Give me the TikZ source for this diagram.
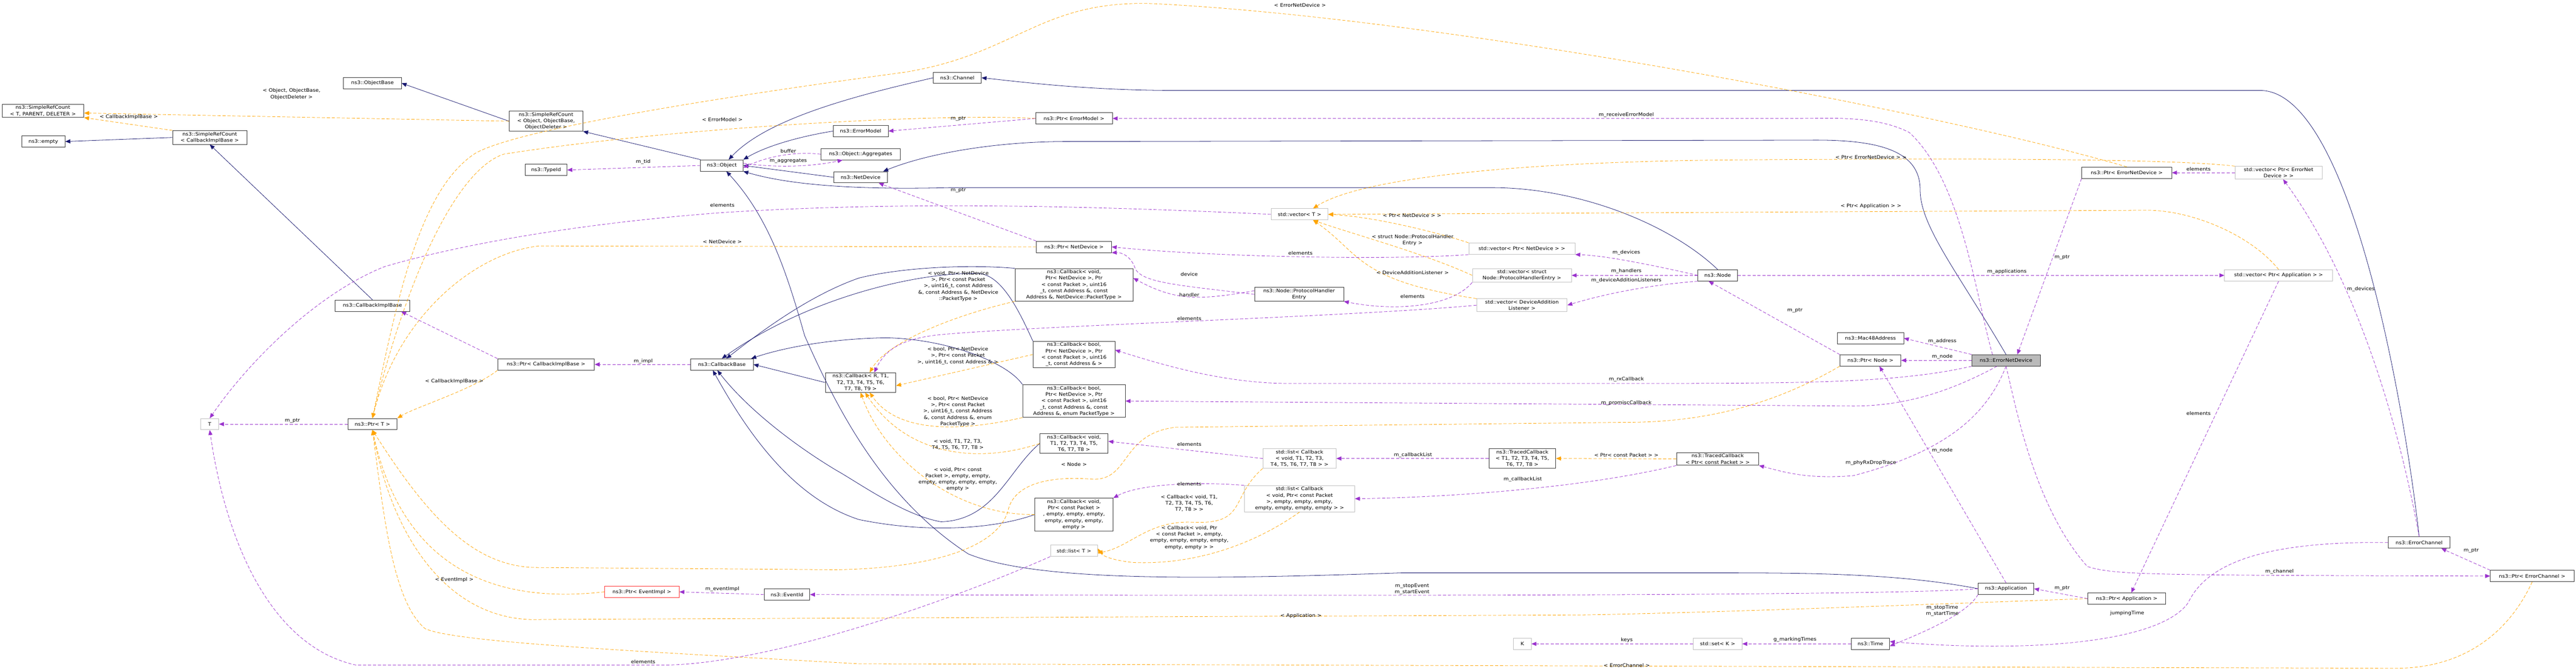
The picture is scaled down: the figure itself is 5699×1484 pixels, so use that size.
\documentclass[tikz,border=0pt]{standalone}
\usepackage{fontspec}
\setmainfont{DejaVu Sans}[FakeStretch=1.1]
\usetikzlibrary{arrows.meta}
\definecolor{cblue}{HTML}{191970}
\definecolor{cpurp}{HTML}{9A32CD}
\definecolor{corng}{HTML}{FFA500}
\begin{document}
\begin{tikzpicture}[x=1pt,y=-1pt,
  every node/.style={font=\fontsize{10.5}{14}\selectfont},
  box/.style={draw=black!80, fill=white, line width=1pt, align=center, inner sep=3pt, minimum height=25pt, minimum width=#1},
  gbox/.style={box=#1, draw=black!25},
  inh/.style={draw=cblue, line width=0.9pt, -{Triangle[length=11pt,width=9pt]}},
  use/.style={draw=cpurp, line width=0.9pt, dash pattern=on 7pt off 4pt, -{Triangle[length=11pt,width=9pt]}},
  tpl/.style={draw=corng, line width=0.9pt, dash pattern=on 7pt off 4pt, -{Triangle[length=11pt,width=9pt]}},
  lbl/.style={align=center, inner sep=0pt, fill=none}]
\useasboundingbox[fill=white] (0,0) rectangle (5699,1484);
% nodes
\node[box=181] (srctpd) at (95,245) {ns3::SimpleRefCount\\< T, PARENT, DELETER >};
\node[box=96] (empty) at (96,313) {ns3::empty};
\node[box=164] (srccib) at (464,304) {ns3::SimpleRefCount\\< CallbackImplBase >};
\node[box=128] (objbase) at (824,184) {ns3::ObjectBase};
\node[box=166] (cib) at (824,676) {ns3::CallbackImplBase};
\node[gbox=40] (T) at (464,938) {T};
\node[box=109] (pT) at (824,938) {ns3::Ptr< T >};
\node[box=163] (srcobj) at (1208,268) {ns3::SimpleRefCount\\< Object, ObjectBase,\\ ObjectDeleter >};
\node[box=93] (typeid) at (1208,376) {ns3::TypeId};
\node[box=94] (object) at (1597,366) {ns3::Object};
\node[box=122] (errmodel) at (1904,290) {ns3::ErrorModel};
\node[box=176] (agg) at (1904,341) {ns3::Object::Aggregates};
\node[box=119] (netdev) at (1904,392) {ns3::NetDevice};
\node[box=214] (pcib) at (1208,806) {ns3::Ptr< CallbackImplBase >};
\node[box=139] (cbase) at (1597,806) {ns3::CallbackBase};
\node[box=156] (cbr) at (1904,846) {ns3::Callback< R, T1,\\ T2, T3, T4, T5, T6,\\ T7, T8, T9 >};
\node[box=165, draw=red!80] (pevent) at (1420,1309) {ns3::Ptr< EventImpl >};
\node[box=101] (eventid) at (1741,1315) {ns3::EventId};
\node[box=106] (channel) at (2118,172) {ns3::Channel};
\node[box=170] (perr) at (2376,262) {ns3::Ptr< ErrorModel >};
\node[box=166] (pnd) at (2376,546) {ns3::Ptr< NetDevice >};
\node[box=261] (cbnd) at (2376,630) {ns3::Callback< void,\\ Ptr< NetDevice >, Ptr\\< const Packet >, uint16\\\_t, const Address \&, const\\ Address \&, NetDevice::PacketType >};
\node[box=197] (phe) at (2874,651) {ns3::Node::ProtocolHandler\\Entry};
\node[box=181] (cbb1) at (2376,784) {ns3::Callback< bool,\\ Ptr< NetDevice >, Ptr\\< const Packet >, uint16\\\_t, const Address \& >};
\node[box=227] (cbb2) at (2376,887) {ns3::Callback< bool,\\ Ptr< NetDevice >, Ptr\\< const Packet >, uint16\\\_t, const Address \&, const\\ Address \&, enum PacketType >};
\node[box=151] (cbvt) at (2376,981) {ns3::Callback< void,\\ T1, T2, T3, T4, T5,\\ T6, T7, T8 >};
\node[box=173] (cbpkt) at (2376,1138) {ns3::Callback< void,\\ Ptr< const Packet >\\, empty, empty, empty,\\ empty, empty, empty,\\ empty >};
\node[gbox=104] (listT) at (2376,1218) {std::list< T >};
\node[gbox=162] (listcbt) at (2875,1014) {std::list< Callback\\< void, T1, T2, T3,\\ T4, T5, T6, T7, T8 > >};
\node[gbox=244] (listcbp) at (2875,1103) {std::list< Callback\\< void, Ptr< const Packet\\ >, empty, empty, empty,\\ empty, empty, empty, empty > >};
\node[gbox=126] (vecT) at (2875,474) {std::vector< T >};
\node[gbox=235] (vecpnd) at (3367,550) {std::vector< Ptr< NetDevice > >};
\node[gbox=219] (vecst) at (3367,609) {std::vector< struct\\ Node::ProtocolHandlerEntry >};
\node[gbox=200] (vecdal) at (3367,675) {std::vector< DeviceAddition\\Listener >};
\node[box=87] (node) at (3800,609) {ns3::Node};
\node[box=148] (tct) at (3368,1014) {ns3::TracedCallback\\< T1, T2, T3, T4, T5,\\ T6, T7, T8 >};
\node[box=182] (tcp) at (3800,1015) {ns3::TracedCallback\\< Ptr< const Packet > >};
\node[gbox=39] (K) at (3368,1424) {K};
\node[gbox=108] (setK) at (3800,1424) {std::set< K >};
\node[box=199] (pend) at (4705,382) {ns3::Ptr< ErrorNetDevice >};
\node[box=147] (mac) at (4138,748) {ns3::Mac48Address};
\node[box=135] (pnode) at (4138,797) {ns3::Ptr< Node >};
\node[box=151, fill=black!27] (end) at (4438,797) {ns3::ErrorNetDevice};
\node[box=123] (app) at (4438,1302) {ns3::Application};
\node[box=172] (papp) at (4705,1324) {ns3::Ptr< Application >};
\node[box=85] (time) at (4138,1424) {ns3::Time};
\node[gbox=193] (vecpend) at (5041,382) {std::vector< Ptr< ErrorNet\\Device > >};
\node[gbox=239] (vecpapp) at (5041,609) {std::vector< Ptr< Application > >};
\node[box=137] (ec) at (5352,1200) {ns3::ErrorChannel};
\node[box=185] (pec) at (5602,1274) {ns3::Ptr< ErrorChannel >};
% inheritance
\draw[inh] (srccib.west) -- (empty.east);
\draw[inh] (cib.north) -- (srccib.south);
\draw[inh] (srcobj.west) -- (objbase.east);
\draw[inh] (object.north west) -- (srcobj.south east);
\draw[inh] (errmodel.west) .. controls (1780,300) and (1700,320) .. (object.north east);
\draw[inh] (channel.west) .. controls (1900,210) and (1700,260) .. ([xshift=15pt]object.north);
\draw[inh] (netdev.west) -- (object.east);
\draw[inh] (node.north) .. controls (3700,500) and (3500,415) .. (3300,415) -- (2100,415) .. controls (1900,420) and (1750,410) .. (object.south east);
\draw[inh] (end.north) .. controls (4330,600) and (4248,500) .. (4248,420) .. controls (4248,330) and (4150,308) .. (4000,310) -- (2360,313) .. controls (2200,313) and (2050,340) .. ([xshift=-10pt]netdev.north east);
\draw[inh] (ec.north) .. controls (5320,900) and (5200,200) .. (5000,200) -- (2600,200) .. controls (2400,200) and (2250,180) .. (channel.east);
\draw[inh] (app.west) .. controls (4200,1268) and (4000,1267) .. (3800,1267) -- (3100,1267) .. controls (2700,1280) and (2300,1290) .. (2142,1225) .. controls (1950,1100) and (1850,900) .. (1780,742) .. controls (1740,600) and (1700,480) .. ([xshift=10pt]object.south);
\draw[inh] (cbr.west) -- (cbase.east);
\draw[inh] (cbnd.north west) .. controls (2150,585) and (2000,590) .. (1900,615) .. controls (1800,650) and (1700,720) .. ([xshift=10pt]cbase.north);
\draw[inh] (cbb1.north west) .. controls (2260,700) and (2220,610) .. (2167,605) .. controls (2050,600) and (1800,650) .. (cbase.north);
\draw[inh] (cbb2.north west) .. controls (2230,803) and (2100,750) .. (1960,747) .. controls (1800,750) and (1700,780) .. ([xshift=-5pt]cbase.north east);
\draw[inh] (cbvt.west) .. controls (2230,1040) and (2200,1150) .. (2082,1154) .. controls (2000,1140) and (1900,1068) .. (1850,1040) .. controls (1750,980) and (1650,900) .. ([xshift=-10pt]cbase.south);
\draw[inh] (cbpkt.west) .. controls (2200,1170) and (2050,1180) .. (1900,1149) .. controls (1750,1100) and (1650,950) .. ([xshift=-20pt]cbase.south);
% templates
\draw[tpl] (srcobj.west) -- ([yshift=-5pt]srctpd.east);
\draw[tpl] (srccib.north west) -- (srctpd.south east);
\draw[tpl] (pend.north) .. controls (4300,250) and (3200,40) .. (2550,8) .. controls (2300,0) and (2250,120) .. (2000,160) .. controls (1700,200) and (1150,280) .. (1050,340) .. controls (930,420) and (880,650) .. (pT.north);
\draw[tpl] (perr.west) .. controls (2100,250) and (1500,280) .. (1114,341) .. controls (1000,380) and (890,650) .. (pT.north);
\draw[tpl] (pnd.west) -- (1192,544) .. controls (1050,560) and (880,700) .. (pT.north);
\draw[tpl] (pcib.south west) .. controls (1050,860) and (920,900) .. (pT.north east);
\draw[tpl] (pnode.south west) .. controls (3950,880) and (3800,934) .. (3600,934) -- (2600,945) .. controls (2480,960) and (2500,1060) .. (2420,1060) .. controls (2300,1050) and (2240,1080) .. (2230,1130) .. controls (2200,1230) and (2000,1258) .. (1850,1260) -- (1180,1255) .. controls (1050,1250) and (950,1150) .. (pT.south);
\draw[tpl] (pevent.west) .. controls (1150,1330) and (900,1300) .. (pT.south);
\draw[tpl] (papp.west) .. controls (4300,1335) and (3800,1355) .. (3500,1360) -- (1200,1370) .. controls (1000,1380) and (870,1200) .. (pT.south);
\draw[tpl] (pec.south) .. controls (5550,1400) and (5450,1478) .. (5300,1478) -- (1900,1468) .. controls (1400,1440) and (1000,1420) .. (940,1390) .. controls (870,1330) and (850,1150) .. (pT.south);
\draw[tpl] (cbb1.west) -- ([yshift=-7pt]cbr.east);
\draw[tpl] (cbb2.south west) .. controls (2100,960) and (1980,950) .. ([xshift=20pt]cbr.south);
\draw[tpl] (cbvt.west) .. controls (2150,1030) and (2000,1000) .. ([xshift=10pt]cbr.south);
\draw[tpl] (cbpkt.west) .. controls (2100,1140) and (1950,1000) .. (cbr.south);
\draw[tpl] (cbnd.south west) .. controls (2100,700) and (1960,760) .. ([xshift=20pt]cbr.north);
\draw[tpl] (vecpnd.north west) .. controls (3200,520) and (3050,480) .. (vecT.east);
\draw[tpl] (vecst.west) .. controls (3150,560) and (3000,520) .. ([xshift=30pt]vecT.south);
\draw[tpl] (vecdal.north west) .. controls (3000,620) and (3010,560) .. ([xshift=30pt]vecT.south);
\draw[tpl] (vecpend.north west) .. controls (4800,350) and (4300,350) .. (3800,354) .. controls (3300,360) and (3000,400) .. ([xshift=30pt]vecT.north);
\draw[tpl] (vecpapp.north) .. controls (4980,520) and (4850,465) .. (4750,465) -- (vecT.east);
\draw[tpl] (listcbt.south west) .. controls (2720,1100) and (2760,1160) .. (2640,1155) .. controls (2540,1150) and (2500,1210) .. ([yshift=-5pt]listT.east);
\draw[tpl] (listcbp.south) .. controls (2780,1200) and (2650,1250) .. (2506,1244) .. controls (2470,1240) and (2440,1232) .. ([yshift=5pt]listT.east);
\draw[tpl] (tcp.west) -- (tct.east);
% usage
\draw[use] (object.west) -- (typeid.east);
\draw[use] (agg.west) .. controls (1760,335) and (1700,345) .. ([yshift=-5pt]object.east);
\draw[use] ([yshift=5pt]object.east) .. controls (1720,372) and (1800,368) .. ([xshift=-40pt]agg.south);
\draw[use] (perr.west) -- (errmodel.east);
\draw[use] (pnd.north west) -- ([xshift=-20pt]netdev.south east);
\draw[use] (pT.west) -- (T.east);
\draw[use] (vecT.west) .. controls (2400,455) and (2000,445) .. (1600,470) .. controls (1200,500) and (950,560) .. (850,590) .. controls (700,650) and (550,800) .. (T.north);
\draw[use] (listT.south west) .. controls (2100,1330) and (1700,1470) .. (1465,1471) -- (788,1471) .. controls (600,1430) and (500,1200) .. (T.south);
\draw[use] (pcib.north west) -- ([xshift=-20pt]cib.south east);
\draw[use] (cbase.west) -- (pcib.east);
\draw[use] (eventid.west) -- (pevent.east);
\draw[use] (app.west) .. controls (4200,1318) and (3000,1318) .. (eventid.east);
\draw[use] (vecpnd.south west) .. controls (3100,575) and (2700,570) .. (pnd.east);
\draw[use] (phe.west) .. controls (2600,630) and (2520,625) .. (2510,590) .. controls (2500,565) and (2480,558) .. (pnd.south east);
\draw[use] ([yshift=8pt]phe.west) .. controls (2650,665) and (2600,665) .. ([yshift=15pt]cbnd.east);
\draw[use] (vecst.south west) .. controls (3214,677) and (3092,690) .. (phe.south east);
\draw[use] (vecdal.west) .. controls (3000,700) and (2300,720) .. (2082,740) .. controls (2000,748) and (1960,770) .. ([xshift=30pt]cbr.north);
\draw[use] (node.west) .. controls (3650,585) and (3550,565) .. (vecpnd.south east);
\draw[use] (node.west) -- (vecst.east);
\draw[use] (node.south west) .. controls (3650,630) and (3550,650) .. (vecdal.east);
\draw[use] (node.east) -- (vecpapp.west);
\draw[use] (pnode.north west) -- ([xshift=-20pt]node.south);
\draw[use] (end.west) -- (pnode.east);
\draw[use] (end.north west) -- (mac.east);
\draw[use] (app.north) -- ([xshift=20pt]pnode.south);
\draw[use] (app.south west) .. controls (4350,1360) and (4250,1400) .. ([yshift=-5pt]time.east);
\draw[use] (setK.west) -- (K.east);
\draw[use] (time.west) -- (setK.east);
\draw[use] (ec.west) .. controls (5000,1196) and (4880,1250) .. (4841,1333) .. controls (4780,1420) and (4500,1445) .. ([yshift=5pt]time.east);
\draw[use] (pec.north west) -- ([xshift=-20pt]ec.south east);
\draw[use] (end.south) .. controls (4460,900) and (4500,1120) .. (4618,1253) .. controls (4680,1272) and (4750,1272) .. (pec.west);
\draw[use] (pend.south west) -- ([xshift=25pt]end.north);
\draw[use] (vecpend.west) -- (pend.east);
\draw[use] (ec.north) .. controls (5300,900) and (5200,600) .. ([xshift=10pt]vecpend.south);
\draw[use] (vecpapp.south) -- ([xshift=10pt]papp.north);
\draw[use] (papp.west) -- (app.east);
\draw[use] (end.south) .. controls (4394,922) and (4300,1000) .. (4100,1052) .. controls (4000,1060) and (3950,1045) .. (tcp.south east);
\draw[use] (tct.west) -- (listcbt.east);
\draw[use] (tcp.south west) .. controls (3500,1080) and (3200,1100) .. (listcbp.east);
\draw[use] (listcbt.west) -- ([yshift=5pt]cbvt.east);
\draw[use] (listcbp.north west) .. controls (2650,1065) and (2520,1070) .. (cbpkt.north east);
\draw[use] (end.south west) .. controls (4200,847) and (4000,848) .. (3600,848) -- (2850,848) .. controls (2700,848) and (2550,800) .. ([yshift=10pt]cbb1.east);
\draw[use] ([xshift=-20pt]end.south) .. controls (4300,874) and (4200,898) .. (4100,898) -- (cbb2.east);
\draw[use] ([xshift=-30pt]end.north) .. controls (4370,650) and (4340,400) .. (4224,293) .. controls (4150,255) and (4050,262) .. (3982,262) -- (perr.east);
% labels
\node[lbl] (l1) at (645,208) {< Object, ObjectBase,\\ ObjectDeleter >};
\node[lbl] (l2) at (285,259) {< CallbackImplBase >};
\node[lbl] (l3) at (1423,358) {m\_tid};
\node[lbl] (l4) at (1744,334) {buffer};
\node[lbl] (l5) at (1744,356) {m\_aggregates};
\node[lbl] (l6) at (1598,264) {< ErrorModel >};
\node[lbl] (l7) at (1598,454) {elements};
\node[lbl] (l8) at (1598,535) {< NetDevice >};
\node[lbl] (l9) at (647,931) {m\_ptr};
\node[lbl] (l10) at (1423,799) {m\_impl};
\node[lbl] (l11) at (1005,843) {< CallbackImplBase >};
\node[lbl] (l12) at (1005,1282) {< EventImpl >};
\node[lbl] (l13) at (1598,1303) {m\_eventImpl};
\node[lbl] (l14) at (1423,1463) {elements};
\node[lbl] (l15) at (2876,11) {< ErrorNetDevice >};
\node[lbl] (l16) at (2120,263) {m\_ptr};
\node[lbl] (l17) at (2120,421) {m\_ptr};
\node[lbl] (l18) at (2120,633) {< void, Ptr< NetDevice\\ >, Ptr< const Packet\\ >, uint16\_t, const Address\\ \&, const Address \&, NetDevice\\ ::PacketType >};
\node[lbl] (l19) at (2631,607) {device};
\node[lbl] (l20) at (2631,652) {handler};
\node[lbl] (l21) at (2877,560) {elements};
\node[lbl] (l22) at (2631,704) {elements};
\node[lbl] (l23) at (2119,787) {< bool, Ptr< NetDevice\\ >, Ptr< const Packet\\ >, uint16\_t, const Address \& >};
\node[lbl] (l24) at (2119,910) {< bool, Ptr< NetDevice\\ >, Ptr< const Packet\\ >, uint16\_t, const Address\\ \&, const Address \&, enum\\ PacketType >};
\node[lbl] (l25) at (2119,983) {< void, T1, T2, T3,\\ T4, T5, T6, T7, T8 >};
\node[lbl] (l26) at (2119,1060) {< void, Ptr< const\\ Packet >, empty, empty,\\ empty, empty, empty, empty,\\ empty >};
\node[lbl] (l27) at (2376,1027) {< Node >};
\node[lbl] (l28) at (2631,983) {elements};
\node[lbl] (l29) at (2631,1070) {elements};
\node[lbl] (l30) at (2631,1113) {< Callback< void, T1,\\ T2, T3, T4, T5, T6,\\ T7, T8 > >};
\node[lbl] (l31) at (2631,1189) {< Callback< void, Ptr\\< const Packet >, empty,\\ empty, empty, empty, empty,\\ empty, empty > >};
\node[lbl] (l32) at (2878,1362) {< Application >};
\node[lbl] (l33) at (3124,476) {< Ptr< NetDevice > >};
\node[lbl] (l34) at (3125,531) {< struct Node::ProtocolHandler\\ Entry >};
\node[lbl] (l35) at (3125,603) {< DeviceAdditionListener >};
\node[lbl] (l36) at (3125,656) {elements};
\node[lbl] (l37) at (3598,559) {m\_devices};
\node[lbl] (l38) at (3598,600) {m\_handlers};
\node[lbl] (l39) at (3598,620) {m\_deviceAdditionListeners};
\node[lbl] (l40) at (3598,254) {m\_receiveErrorModel};
\node[lbl] (l41) at (3598,839) {m\_rxCallback};
\node[lbl] (l42) at (3598,891) {m\_promiscCallback};
\node[lbl] (l43) at (3126,1006) {m\_callbackList};
\node[lbl] (l44) at (3598,1006) {< Ptr< const Packet > >};
\node[lbl] (l45) at (3369,1060) {m\_callbackList};
\node[lbl] (l46) at (3124,1303) {m\_stopEvent\\m\_startEvent};
\node[lbl] (l47) at (3599,1415) {keys};
\node[lbl] (l48) at (3599,1471) {< ErrorChannel >};
\node[lbl] (l49) at (4139,348) {< Ptr< ErrorNetDevice > >};
\node[lbl] (l50) at (4139,456) {< Ptr< Application > >};
\node[lbl] (l51) at (4562,569) {m\_ptr};
\node[lbl] (l52) at (4440,601) {m\_applications};
\node[lbl] (l53) at (3971,686) {m\_ptr};
\node[lbl] (l54) at (4297,755) {m\_address};
\node[lbl] (l55) at (4297,789) {m\_node};
\node[lbl] (l56) at (4297,996) {m\_node};
\node[lbl] (l57) at (4139,1024) {m\_phyRxDropTrace};
\node[lbl] (l58) at (4562,1301) {m\_ptr};
\node[lbl] (l59) at (4297,1351) {m\_stopTime\\m\_startTime};
\node[lbl] (l60) at (4706,1356) {jumpingTime};
\node[lbl] (l61) at (3971,1415) {g\_markingTimes};
\node[lbl] (l62) at (4864,374) {elements};
\node[lbl] (l63) at (5223,639) {m\_devices};
\node[lbl] (l64) at (4864,914) {elements};
\node[lbl] (l65) at (5467,1218) {m\_ptr};
\node[lbl] (l66) at (5043,1264) {m\_channel};
\end{tikzpicture}
\end{document}
